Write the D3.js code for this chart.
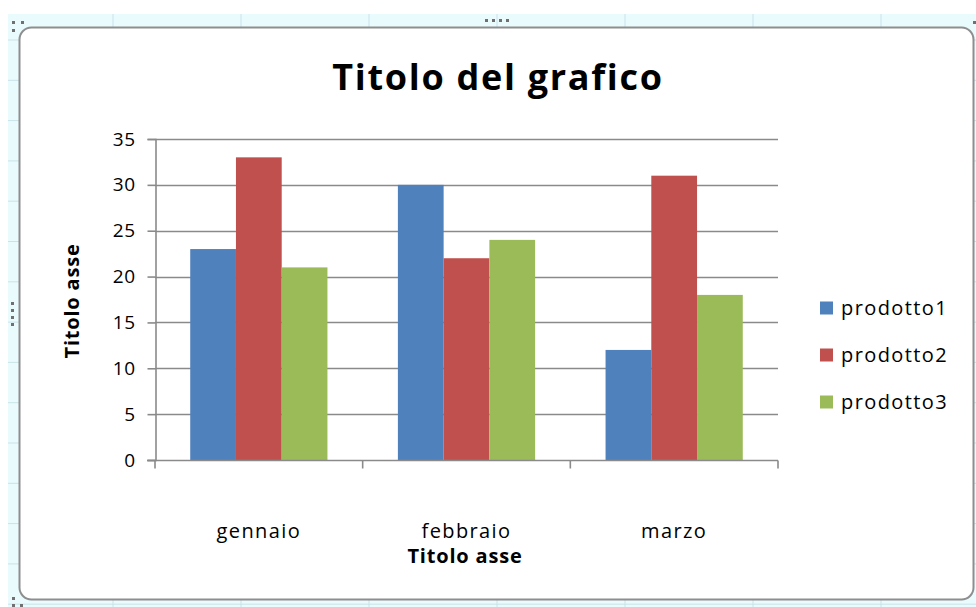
<!DOCTYPE html>
<html>
<head>
<meta charset="utf-8">
<script src="https://cdn.jsdelivr.net/npm/d3@7"></script>
<style>
  html, body { margin: 0; padding: 0; background: #ffffff; }
  svg { display: block; }
  text { font-family: "Open Sans", Lato, sans-serif; fill: #000; }
</style>
</head>
<body>
<svg id="chart" width="976" height="607"></svg>
<script>
// Data
const categories = ["gennaio", "febbraio", "marzo"];
const seriesNames = ["prodotto1", "prodotto2", "prodotto3"];
const prodotto1 = [23, 30, 12];
const prodotto2 = [33, 22, 31];
const prodotto3 = [21, 24, 18];
const yTicks = [0, 5, 10, 15, 20, 25, 30, 35];
const chartTitle = "Titolo del grafico";
const xAxisTitle = "Titolo asse";
const yAxisTitle = "Titolo asse";

const seriesValues = [prodotto1, prodotto2, prodotto3];
const colors = ["#4F81BD", "#C0504D", "#9BBB59"];

const W = 976, H = 607;
const svg = d3.select("#chart");

// Worksheet cells behind the chart object
const sheet = svg.append("g");
sheet.append("rect").attr("x", 8).attr("y", 14).attr("width", W - 8).attr("height", H - 14)
  .attr("fill", "#eafbfd");
const colLines = d3.range(113, W, 128);
const rowLines = d3.range(40, H, 40.3);
sheet.selectAll("line.col").data(colLines).join("line")
  .attr("x1", d => d).attr("x2", d => d).attr("y1", 14).attr("y2", H)
  .attr("stroke", "#c9e3e8").attr("stroke-width", 1);
sheet.selectAll("line.row").data(rowLines).join("line")
  .attr("x1", 8).attr("x2", W).attr("y1", d => d).attr("y2", d => d)
  .attr("stroke", "#c9e3e8").attr("stroke-width", 1);

// Chart area frame
svg.append("rect").attr("x", 19.5).attr("y", 27.5).attr("width", 954).attr("height", 572)
  .attr("rx", 12).attr("ry", 12)
  .attr("fill", "#ffffff").attr("stroke", "#8e8e8e").attr("stroke-width", 2);

// Selection handles
const handles = [
  [12, 21], [21, 21], [12, 29],
  [485, 19], [492, 19], [499, 19], [506, 19],
  [11, 302], [11, 309], [11, 316], [11, 323],
  [12, 597], [12, 604], [20, 604],
  [973, 21]
];
svg.selectAll("rect.handle").data(handles).join("rect")
  .attr("x", d => d[0]).attr("y", d => d[1]).attr("width", 3).attr("height", 3)
  .attr("fill", "#707070");

// Plot area
const plot = { left: 155, right: 778, top: 139, bottom: 460 };

const x0 = d3.scaleBand().domain(categories).range([plot.left, plot.right]).paddingInner(0).paddingOuter(0);
const x1 = d3.scaleBand().domain(seriesNames).range([0, x0.bandwidth()]).paddingInner(0).paddingOuter(0.77);
const y = d3.scaleLinear().domain([0, 35]).range([plot.bottom, plot.top]);

const axisColor = "#8a8a8a";

// Horizontal gridlines
const grid = svg.append("g");
grid.selectAll("line").data(yTicks.filter(t => t > 0)).join("line")
  .attr("x1", plot.left).attr("x2", plot.right)
  .attr("y1", d => Math.round(y(d)) + 0.5).attr("y2", d => Math.round(y(d)) + 0.5)
  .attr("stroke", axisColor).attr("stroke-width", 1.6);

// Bars
const groups = svg.append("g").selectAll("g").data(categories).join("g")
  .attr("transform", c => `translate(${x0(c)},0)`);
groups.selectAll("rect").data((c, ci) => seriesNames.map((s, si) => ({ s, si, v: seriesValues[si][ci] })))
  .join("rect")
  .attr("x", d => x1(d.s))
  .attr("width", x1.bandwidth())
  .attr("y", d => y(d.v))
  .attr("height", d => y(0) - y(d.v))
  .attr("fill", d => colors[d.si]);

// Y axis
const yAxis = d3.axisLeft(y).tickValues(yTicks).tickSize(8).tickPadding(12).tickFormat(d3.format("d"));
const gy = svg.append("g").attr("transform", `translate(${plot.left + 0.5},0)`).call(yAxis);
gy.select(".domain").attr("stroke", axisColor).attr("stroke-width", 1.6);
gy.selectAll(".tick line").attr("stroke", axisColor).attr("stroke-width", 1.6);
gy.selectAll(".tick text").attr("font-family", "'Open Sans', Lato, sans-serif").attr("font-size", 19)
  .attr("letter-spacing", 0.5).attr("fill", "#000");

// X axis with tick marks on category boundaries
const gx = svg.append("g").attr("transform", `translate(0,${plot.bottom + 0.5})`);
gx.append("line").attr("x1", plot.left - 8).attr("x2", plot.right)
  .attr("stroke", axisColor).attr("stroke-width", 1.6);
const boundaries = categories.map(c => x0(c)).concat([plot.right]);
gx.selectAll("line.tick").data(boundaries).join("line")
  .attr("x1", d => d).attr("x2", d => d).attr("y1", 0).attr("y2", 8)
  .attr("stroke", axisColor).attr("stroke-width", 1.6);
gx.selectAll("text").data(categories).join("text")
  .attr("x", c => x0(c) + x0.bandwidth() / 2)
  .attr("y", 77)
  .attr("text-anchor", "middle")
  .attr("font-size", 20)
  .attr("letter-spacing", 1.4)
  .text(d => d);

// Titles
svg.append("text").attr("x", 498).attr("y", 90).attr("text-anchor", "middle")
  .attr("font-size", 36).attr("font-weight", "bold").attr("letter-spacing", 1.7).text(chartTitle);
svg.append("text").attr("x", 465).attr("y", 563).attr("text-anchor", "middle")
  .attr("font-size", 20).attr("font-weight", "bold").attr("letter-spacing", 0.8).text(xAxisTitle);
svg.append("text").attr("transform", "translate(79,301) rotate(-90)").attr("text-anchor", "middle")
  .attr("font-size", 20).attr("font-weight", "bold").attr("letter-spacing", 0.8).text(yAxisTitle);

// Legend
const legend = svg.append("g").attr("transform", "translate(820,0)");
const legendY = d3.scalePoint().domain(seriesNames).range([308, 402]);
legend.selectAll("rect").data(seriesNames).join("rect")
  .attr("x", 0).attr("y", d => legendY(d) - 6.5).attr("width", 13).attr("height", 13)
  .attr("fill", (d, i) => colors[i]);
legend.selectAll("text").data(seriesNames).join("text")
  .attr("x", 21).attr("y", d => legendY(d) + 7)
  .attr("font-size", 20).attr("letter-spacing", 1.4).text(d => d);
</script>
</body>
</html>
